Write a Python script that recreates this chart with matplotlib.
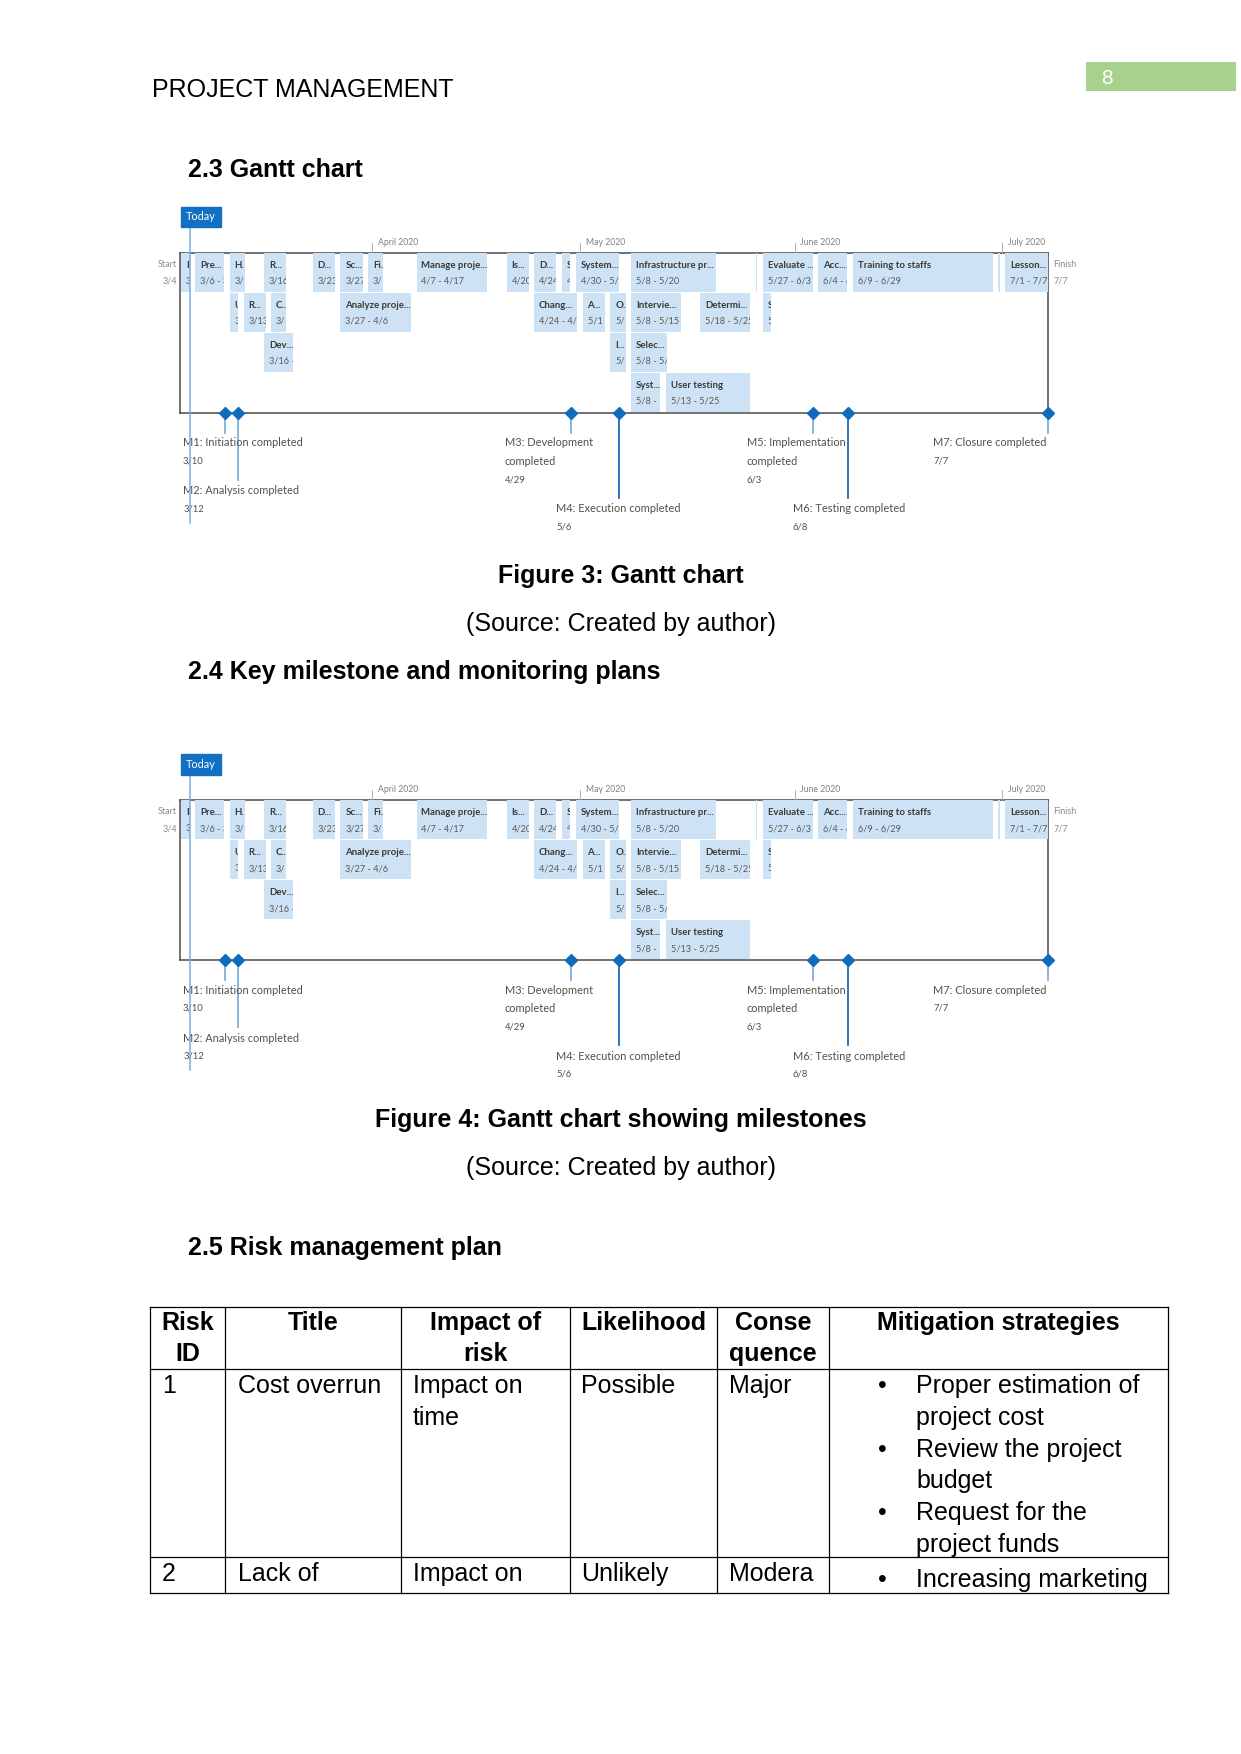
import datetime as dt
import numpy as np
import matplotlib
matplotlib.use('Agg')
import matplotlib.pyplot as plt
import matplotlib.dates as mdates
from matplotlib.patches import Rectangle
from matplotlib.transforms import ScaledTranslation

W, H = 1241, 1754
DOC_FONT = 'Liberation Sans'
GANTT_FONT = 'Lato'

# ---- timeline data (the same project timeline is shown twice on the page) ----
task_title = ['P', 'Pre...', 'H.', 'R...', 'D...', 'Sc...', 'Fi...', 'Manage proje...',
              'Is...', 'D...', 'S', 'System...', 'Infrastructure pr...', '', 'Evaluate ...',
              'Acc...', 'Training to staffs', '', 'Lesson...',
              'U', 'R...', 'C...', 'Analyze proje...', 'Chang...', 'A...', 'O...',
              'Intervie...', 'Determi...', 'S',
              'Dev...', 'I...', 'Selec...',
              'Syst...', 'User testing']
task_start = ['3/4', '3/6', '3/11', '3/16', '3/23', '3/27', '3/31', '4/7',
              '4/20', '4/24', '4/28', '4/30', '5/8', '5/26', '5/27',
              '6/4', '6/9', '6/30', '7/1',
              '3/11', '3/13', '3/17', '3/27', '4/24', '5/1', '5/5',
              '5/8', '5/18', '5/27',
              '3/16', '5/5', '5/8',
              '5/8', '5/13']
task_end = ['3/5', '3/10', '3/13', '3/19', '3/26', '3/30', '4/2', '4/17',
            '4/23', '4/27', '4/29', '5/6', '5/20', '5/26', '6/3',
            '6/8', '6/29', '6/30', '7/7',
            '3/12', '3/16', '3/19', '4/6', '4/30', '5/4', '5/7',
            '5/15', '5/25', '5/28',
            '3/20', '5/7', '5/13',
            '5/12', '5/25']
task_lane = [0] * 19 + [1] * 10 + [2] * 3 + [3] * 2

month_start = ['4/1', '5/1', '6/1', '7/1']
month_label = ['April 2020', 'May 2020', 'June 2020', 'July 2020']

ms_title = [['M1: Initiation completed'], ['M2: Analysis completed'],
            ['M3: Development', 'completed'], ['M4: Execution completed'],
            ['M5: Implementation', 'completed'], ['M6: Testing completed'],
            ['M7: Closure completed']]
ms_date = ['3/10', '3/12', '4/29', '5/6', '6/3', '6/8', '7/7']

project_start = '3/4'
project_finish = '7/7'
today = '3/5'

# milestone label layout (pixels)
ms_label_dx = [-42, -55, -66, -63, -66, -55, -115]
ms_label_y = [236, 284, 236, 302, 236, 302, 236]
ms_stem_end = [226, 273, 226, 291, 226, 291, 226]
ms_stem_col = ['#7db0df', '#7db0df', '#7db0df', '#1a6db8', '#7db0df', '#1a6db8', '#7db0df']

# ---- risk table ----
headers = [['Risk', 'ID'], ['Title'], ['Impact of', 'risk'], ['Likelihood'],
           ['Conse', 'quence'], ['Mitigation strategies']]
risk_id = ['1', '2']
risk_title = ['Cost overrun', 'Lack of']
risk_impact = [['Impact on', 'time'], ['Impact on']]
risk_likelihood = ['Possible', 'Unlikely']
risk_consequence = ['Major', 'Modera']
risk_mitigation = [[['Proper estimation of', 'project cost'],
                    ['Review the project', 'budget'],
                    ['Request for the', 'project funds']],
                   [['Increasing marketing']]]


def day(s):
    m, d = s.split('/')
    return mdates.date2num(dt.datetime(2020, int(m), int(d)))


BAR_C = '#cde2f4'
ROW0, ROW_H, BAR_H = 46.3, 40.0, 38.7
TL = 206.3          # timeline y, relative to the "Today" box top
INSET = 0.4
PX_DAY = 6.923


def fit_to_bar(ax, a, b, r):
    # drop characters that run far past the bar, the rest is clipped
    right = ax.transData.transform((b.get_x() + b.get_width(), 0))[0]
    s = a.get_text()
    while len(s) > 1 and a.get_window_extent(r).x1 > right + 4:
        s = s[:-1]
        a.set_text(s)


def draw_gantt(fig, y0):
    ax = fig.add_axes([130 / W, 1 - (y0 + 335) / H, 970 / W, 340 / H])
    d0 = day(project_start)
    ax.set_xlim(d0 - 48.5 / PX_DAY, d0 + 921.5 / PX_DAY)
    ax.set_ylim(335, -5)
    ax.axis('off')
    r = fig.canvas.get_renderer()

    left = d0 + 0.2
    right = day(project_finish) + 0.65
    gray = '#4a4a4a'
    ax.plot([left, right], [ROW0, ROW0], color=gray, lw=1.1, zorder=1)
    ax.plot([left, left], [ROW0, TL], color=gray, lw=1.1, zorder=1)
    ax.plot([right, right], [ROW0, TL], color=gray, lw=1.1, zorder=1)
    ax.plot([left, right], [TL, TL], color=gray, lw=1.1, zorder=1)

    shift = ax.transData + ScaledTranslation(-3 / 100, 0, fig.dpi_scale_trans)
    ax.text(left, ROW0 + 11.5, 'Start', ha='right', va='center', fontsize=6.5,
            color='#8a8a8a', family=GANTT_FONT, transform=shift)
    ax.text(left, ROW0 + 28.5, project_start, ha='right', va='center', fontsize=6.5,
            color='#8a8a8a', family=GANTT_FONT, transform=shift)
    ax.annotate('Finish', (right, ROW0 + 11.5), xytext=(3.5, 0), textcoords='offset points',
                va='center', fontsize=6.5, color='#8a8a8a', family=GANTT_FONT)
    ax.annotate(project_finish, (right, ROW0 + 28.5), xytext=(3.5, 0), textcoords='offset points',
                va='center', fontsize=6.5, color='#8a8a8a', family=GANTT_FONT)

    # month markers
    for m, lab in zip(month_start, month_label):
        x = day(m)
        ax.plot([x, x], [36, ROW0], color='#b0b0b0', lw=0.7, zorder=1)
        ax.annotate(lab, (x, 35.6), xytext=(4.2, 0), textcoords='offset points',
                    va='center', fontsize=6.2, color='#808080', family=GANTT_FONT)

    # task bars
    starts = np.array([day(s) for s in task_start])
    ends = np.array([day(e) + 1 for e in task_end])
    lanes = np.array(task_lane)
    bars = ax.barh(ROW0 + ROW_H * lanes + BAR_H / 2, ends - starts - 2 * INSET,
                   left=starts + INSET, height=BAR_H, color=BAR_C, linewidth=0, zorder=2)
    for b, t, s, e in zip(bars, task_title, task_start, task_end):
        if not t:
            continue
        x, y = b.get_x(), b.get_y()
        a = ax.annotate(t, (x, y + 12), xytext=(3.4, 0), textcoords='offset points',
                        va='center', fontsize=6.9, color='#3a3a3a', weight='bold',
                        family=GANTT_FONT, zorder=3)
        a.set_clip_path(b)
        fit_to_bar(ax, a, b, r)
        a = ax.annotate(f'{s} - {e}', (x, y + 28.5), xytext=(3.4, 0), textcoords='offset points',
                        va='center', fontsize=6.6, color='#5a5a5a', family=GANTT_FONT, zorder=3)
        a.set_clip_path(b)
        fit_to_bar(ax, a, b, r)

    # milestones
    for i, (names, d) in enumerate(zip(ms_title, ms_date)):
        x = day(d) + 0.65
        ax.plot([x, x], [TL, ms_stem_end[i]], color=ms_stem_col[i], lw=1.3, zorder=3)
        ax.plot([x], [TL], marker='D', ms=6, color='#0f6cbd', zorder=4)
        yy = ms_label_y[i]
        for line in names:
            ax.annotate(line, (x, yy), xytext=(ms_label_dx[i] * 0.72, 0), textcoords='offset points',
                        va='center', fontsize=7.9, color='#505050', family=GANTT_FONT, zorder=5)
            yy += 19
        ax.annotate(d, (x, yy - 1), xytext=(ms_label_dx[i] * 0.72, 0), textcoords='offset points',
                    va='center', fontsize=6.8, color='#505050', family=GANTT_FONT, zorder=5)

    # today marker
    xt = day(today) + 0.65
    ax.plot([xt, xt], [20.6, 316.3], color='#7aaee0', lw=1.1, zorder=6)
    ax.add_patch(Rectangle((xt - 9.3 / PX_DAY, 0), 40 / PX_DAY, 20.6, color='#1170c4', zorder=6))
    ax.text(xt + 10.7 / PX_DAY, 10.3, 'Today', ha='center', va='center', color='white',
            fontsize=7.8, family=GANTT_FONT, zorder=7)
    return ax


fig = plt.figure(figsize=(W / 100, H / 100), dpi=100)
page = fig.add_axes([0, 0, 1, 1])
page.set_xlim(0, W)
page.set_ylim(H, 0)
page.axis('off')


def txt(x, y, s, **kw):
    kw.setdefault('fontsize', 18)
    kw.setdefault('family', DOC_FONT)
    kw.setdefault('va', 'baseline')
    page.text(x, y, s, color=kw.pop('color', 'black'), **kw)


# header
txt(151.5, 96.7, 'PROJECT MANAGEMENT')
page.add_patch(Rectangle((1086, 62.3), 150, 28.7, color='#a9d18e', lw=0))
txt(1101.5, 84, '8', fontsize=15, color='white')

txt(188, 176.6, '2.3 Gantt chart', weight='bold')
draw_gantt(fig, 206.7)
txt(620.5, 583.5, 'Figure 3: Gantt chart', weight='bold', ha='center')
txt(620.5, 630.5, '(Source: Created by author)', ha='center')

txt(188, 679, '2.4 Key milestone and monitoring plans', weight='bold')
draw_gantt(fig, 754.0)
txt(620.5, 1127, 'Figure 4: Gantt chart showing milestones', weight='bold', ha='center')
txt(620.5, 1175, '(Source: Created by author)', ha='center')

txt(188, 1255, '2.5 Risk management plan', weight='bold')

# risk table
col_x = [150.4, 225.4, 401.0, 570.0, 717.3, 829.3, 1168.3]
row_y = [1306.7, 1369.0, 1557.3, 1593.3]
for x in col_x:
    page.plot([x, x], [row_y[0], row_y[-1]], color='black', lw=0.9)
for y in row_y:
    page.plot([col_x[0], col_x[-1]], [y, y], color='black', lw=0.9)

LH = 31.7
for j, hdr in enumerate(headers):
    cx = (col_x[j] + col_x[j + 1]) / 2
    for k, line in enumerate(hdr):
        txt(cx, 1330 + k * 30.7, line, weight='bold', ha='center')

row_base = [1393.3, 1580.7]
for r in range(2):
    yb = row_base[r]
    txt(col_x[0] + 11.6, yb, risk_id[r])
    txt(col_x[1] + 12.5, yb, risk_title[r])
    for k, line in enumerate(risk_impact[r]):
        txt(col_x[2] + 12, yb + k * LH, line)
    txt(col_x[3] + 11.4, yb, risk_likelihood[r])
    txt(col_x[4] + 12, yb, risk_consequence[r])
    yy = yb + (0 if r == 0 else 6)
    for item in risk_mitigation[r]:
        txt(877.7, yy, '\u2022')
        for line in item:
            txt(916, yy, line)
            yy += LH

fig.savefig('out.png', dpi=100)
